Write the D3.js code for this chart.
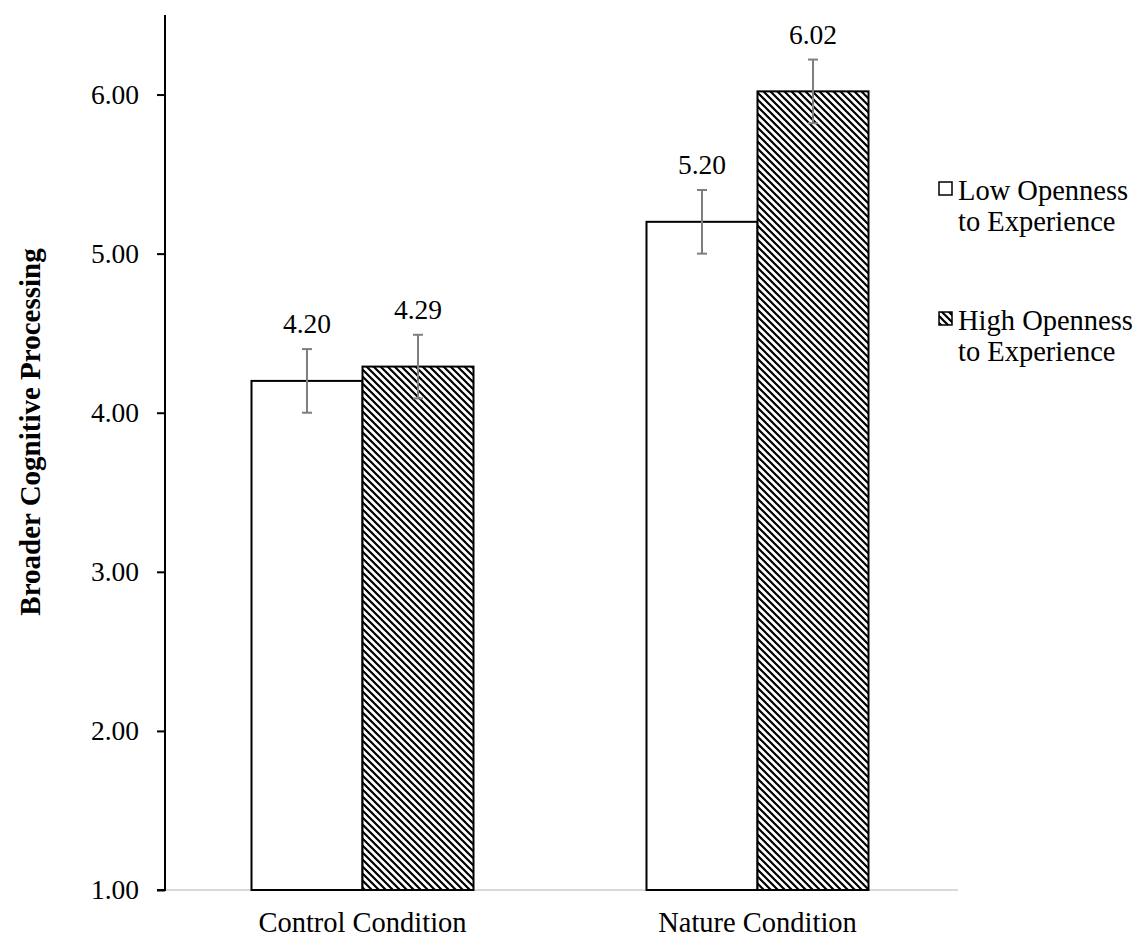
<!DOCTYPE html>
<html>
<head>
<meta charset="utf-8">
<script src="https://cdn.jsdelivr.net/npm/d3@7"></script>
<style>
  html, body { margin: 0; padding: 0; background: #fff; }
  svg { display: block; font-family: "Liberation Serif", "Times New Roman", serif; }
</style>
</head>
<body>
<svg id="chart" width="1142" height="951"></svg>
<script>
// Conditions on the x axis and the two openness groups
const categories = ["Control Condition", "Nature Condition"];
const groups = ["Low Openness to Experience", "High Openness to Experience"];
const legendLines = [["Low Openness", "to Experience"], ["High Openness", "to Experience"]];
// Means per condition for each group
const lowValues = [4.20, 5.20];
const highValues = [4.29, 6.02];
// Error bar half-widths
const lowErrors = [0.20, 0.20];
const highErrors = [0.20, 0.20];
const yTicks = [1, 2, 3, 4, 5, 6];

const svg = d3.select("#chart");
const margin = { left: 165, right: 187, top: 15, bottom: 61 };
const W = 1142, H = 951;

const x0 = d3.scaleBand().domain(categories).range([margin.left, W - margin.right]).paddingInner(0).paddingOuter(0);
const x1 = d3.scaleBand().domain(groups).range([0, 222]);
const y = d3.scaleLinear().domain([1, 6.5]).range([H - margin.bottom, margin.top]);

// Diagonal hatch pattern
const defs = svg.append("defs");
const pat = defs.append("pattern")
  .attr("id", "hatch").attr("patternUnits", "userSpaceOnUse")
  .attr("width", 7).attr("height", 7);
pat.append("rect").attr("width", 7).attr("height", 7).attr("fill", "#fff");
pat.append("path")
  .attr("d", "M-1,-1 L8,8 M-8,-1 L1,8 M6,-1 L15,8")
  .attr("stroke", "#000").attr("stroke-width", 2.2);

const rows = categories.map((c, i) => [
  { cat: c, group: groups[0], value: lowValues[i], err: lowErrors[i], fill: "#fff" },
  { cat: c, group: groups[1], value: highValues[i], err: highErrors[i], fill: "url(#hatch)" }
]);

// X axis baseline
svg.append("line")
  .attr("x1", margin.left).attr("x2", W - margin.right + 3)
  .attr("y1", y(1)).attr("y2", y(1))
  .attr("stroke", "#d9d9d9").attr("stroke-width", 2);

// Y axis
const yAxis = d3.axisLeft(y).tickValues(yTicks).tickFormat(d3.format(".2f")).tickSize(8).tickPadding(18);
const gy = svg.append("g").attr("transform", `translate(${margin.left},0)`).call(yAxis);
gy.select(".domain").attr("stroke", "#000").attr("stroke-width", 2)
  .attr("d", `M-8,${y(1)}H0V${y(6.5)}`);
gy.selectAll(".tick line").attr("stroke", "#000").attr("stroke-width", 2);
gy.selectAll(".tick text").attr("font-size", 27.5).attr("fill", "#000")
  .attr("font-family", "Liberation Serif, Times New Roman, serif");

// Bars
const bandOffset = (x0.bandwidth() - 222) / 2;
const gBars = svg.append("g");
rows.forEach(pair => {
  pair.forEach(d => {
    const bx = x0(d.cat) + bandOffset + x1(d.group);
    const bw = x1.bandwidth();
    gBars.append("rect")
      .attr("x", bx).attr("y", y(d.value))
      .attr("width", bw).attr("height", y(1) - y(d.value))
      .attr("fill", d.fill).attr("stroke", "#000").attr("stroke-width", 2);
  });
});

// Error bars and value labels
rows.forEach(pair => {
  pair.forEach(d => {
    const cx = x0(d.cat) + bandOffset + x1(d.group) + x1.bandwidth() / 2;
    const g = svg.append("g").attr("stroke", "#7f7f7f").attr("stroke-width", 2);
    g.append("line").attr("x1", cx).attr("x2", cx).attr("y1", y(d.value - d.err)).attr("y2", y(d.value + d.err));
    g.append("line").attr("x1", cx - 5).attr("x2", cx + 5).attr("y1", y(d.value + d.err)).attr("y2", y(d.value + d.err));
    g.append("line").attr("x1", cx - 5).attr("x2", cx + 5).attr("y1", y(d.value - d.err)).attr("y2", y(d.value - d.err));
    svg.append("text")
      .attr("x", cx).attr("y", y(d.value + d.err) - 16)
      .attr("text-anchor", "middle").attr("font-size", 27.5).attr("fill", "#000")
      .text(d3.format(".2f")(d.value));
  });
});

// Category labels
svg.append("g").selectAll("text").data(categories).join("text")
  .attr("x", d => x0(d) + x0.bandwidth() / 2)
  .attr("y", 932)
  .attr("text-anchor", "middle").attr("font-size", 28.5).attr("fill", "#000")
  .text(d => d);

// Y axis title
svg.append("text")
  .attr("transform", `translate(40,432) rotate(-90)`)
  .attr("text-anchor", "middle").attr("font-size", 29).attr("font-weight", "bold").attr("fill", "#000")
  .text("Broader Cognitive Processing");

// Legend
const legend = svg.append("g");
const legendFills = ["#fff", "url(#hatch)"];
const legendY = [200, 330];
groups.forEach((g, i) => {
  legend.append("rect")
    .attr("x", 939).attr("y", legendY[i] - 18).attr("width", 13).attr("height", 13)
    .attr("fill", legendFills[i]).attr("stroke", "#000").attr("stroke-width", 1.5);
  const t = legend.append("text").attr("x", 958).attr("y", legendY[i])
    .attr("font-size", 28.5).attr("fill", "#000");
  legendLines[i].forEach((ln, k) => {
    t.append("tspan").attr("x", 958).attr("dy", k === 0 ? 0 : 31).text(ln);
  });
});
</script>
</body>
</html>
